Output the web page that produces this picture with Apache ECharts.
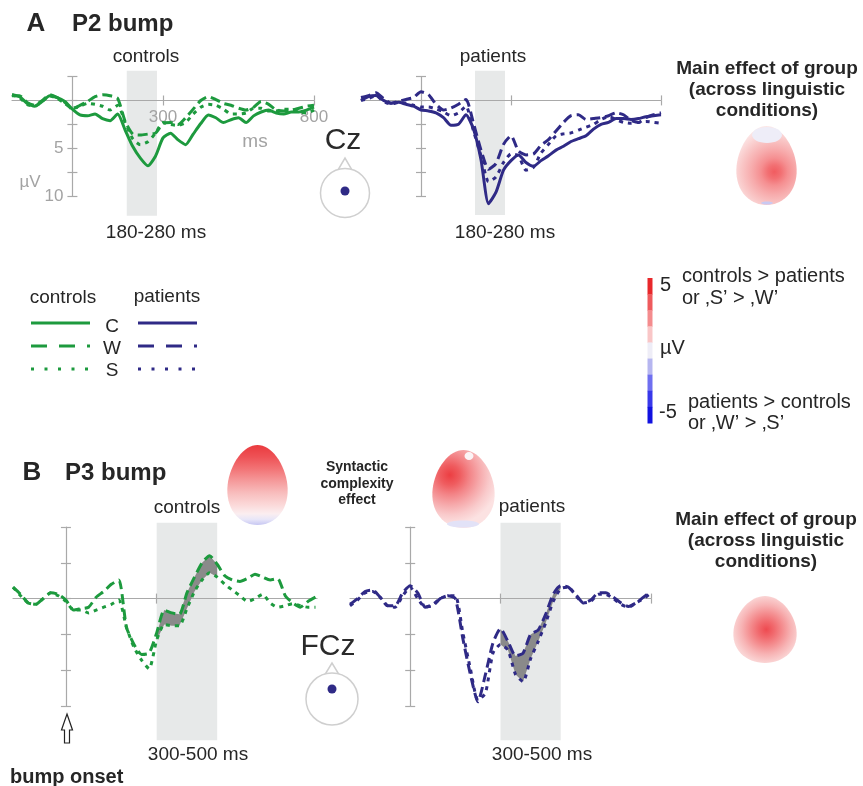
<!DOCTYPE html>
<html>
<head>
<meta charset="utf-8">
<script src="https://cdn.jsdelivr.net/npm/echarts@6/dist/echarts.min.js"></script>
<style>
  html, body { margin: 0; padding: 0; background: #fff; }
  #chart { width: 863px; height: 786px; }
</style>
</head>
<body>
<div id="chart"></div>
<script>
// ---- time bases (ms) ----
const msA = [-200,-175,-150,-125,-100,-75,-50,-25,0,25,50,75,100,125,150,175,200,225,250,275,300,325,350,375,400,425,450,475,500,525,550,575,600,625,650,675,700,725,750,775,800];
const msB = [-175,-150,-125,-100,-75,-50,-25,0,25,50,75,100,125,150,175,200,225,250,275,300,325,350,375,400,425,450,475,500,525,550,575,600,625,650,675,700,725,750,775,800,825];

// ---- P2 bump at Cz (µV), conditions C / W / S ----
const p2ControlsC = [-0.6,-0.4,0.3,0.6,0.1,-0.5,-0.3,0.1,0.9,1.5,1.6,1.4,1.9,2.1,1.4,3.1,4.8,6.0,6.8,5.8,3.9,3.4,4.1,4.6,3.5,2.4,1.5,1.8,2.3,2.0,1.8,2.3,1.6,1.2,1.0,1.3,1.4,1.2,1.2,1.0,0.7];
const p2ControlsW = [-0.5,-0.5,0.2,0.5,0.0,-0.6,-0.3,0.2,0.9,0.5,0.1,-0.4,-0.6,-0.5,-0.2,2.2,3.5,3.6,3.5,3.4,2.4,2.3,2.5,1.8,0.9,0.0,-0.4,-0.1,0.3,0.5,0.8,1.0,0.7,0.1,0.4,1.0,1.1,1.0,0.8,0.6,0.5];
const p2ControlsS = [-0.6,-0.3,0.4,0.6,0.1,-0.5,-0.2,0.3,0.8,0.6,0.3,0.4,0.6,1.0,0.5,2.3,4.0,4.6,4.3,3.4,2.3,2.5,2.6,2.3,1.4,0.7,0.4,0.5,0.9,1.4,1.4,1.3,0.8,0.8,1.1,1.1,0.9,0.9,1.2,1.3,1.0];
const p2PatientsC = [0.0,-0.4,-0.5,0.0,0.3,0.2,0.4,0.6,1.0,1.1,1.3,1.8,2.6,2.5,1.5,3.0,6.2,10.8,9.6,7.3,6.3,5.7,6.5,6.9,6.3,5.8,5.2,4.8,4.3,4.0,3.7,3.0,2.5,2.3,1.9,1.9,2.0,1.9,1.7,1.6,1.5];
const p2PatientsW = [-0.3,-0.5,-0.8,-0.2,0.3,0.1,-0.1,-0.3,-0.9,-0.6,0.4,1.0,0.8,0.4,-0.1,2.4,5.2,7.2,6.6,4.6,3.7,5.3,5.7,5.6,4.7,4.1,3.2,2.3,1.6,1.5,2.0,1.9,1.8,1.6,1.3,1.5,2.1,2.3,1.8,1.5,1.3];
const p2PatientsS = [0.0,-0.2,-0.5,0.1,0.4,0.2,0.3,0.5,0.7,0.7,0.9,1.2,1.6,1.3,0.6,3.2,5.8,8.5,8.0,6.5,5.6,5.8,7.3,7.0,5.5,4.6,3.7,3.5,3.4,3.1,2.8,2.5,2.0,1.7,2.0,2.3,2.4,2.3,2.2,2.3,2.4];

// ---- P3 bump at FCz (µV), conditions W / S ----
const p3ControlsW = [-0.8,-0.3,0.3,0.4,0.0,-0.4,-0.3,0.1,0.8,0.7,0.6,-0.1,-0.5,-1.0,-1.3,2.0,3.2,3.9,3.8,2.4,0.8,1.0,1.1,-0.4,-1.5,-2.5,-3.0,-2.4,-1.6,-1.3,-1.2,-1.4,-1.7,-1.5,-1.3,-1.4,-0.2,0.3,0.6,0.2,-0.1];
const p3ControlsS = [-0.8,-0.2,0.3,0.4,0.0,-0.4,-0.2,0.2,0.8,0.8,1.0,0.8,0.6,0.4,0.1,2.0,3.4,4.3,4.9,2.9,1.8,1.9,1.9,0.7,-0.5,-1.3,-1.8,-1.5,-1.0,-0.6,-0.2,0.2,0.0,-0.3,0.3,0.6,0.5,0.35,0.5,0.6,0.6];
const p3PatientsW = [0.4,0.0,-0.5,-0.6,-0.1,0.5,0.5,-0.4,-0.9,-0.4,0.6,0.5,0.0,-0.2,0.0,2.8,5.3,7.2,5.3,3.1,2.1,3.0,4.0,3.8,2.5,2.2,1.1,-0.3,-0.9,-0.8,-0.3,0.3,0.1,-0.4,-0.4,-0.1,0.3,0.55,0.3,-0.1,-0.5];
const p3PatientsS = [0.5,0.1,-0.4,-0.5,-0.1,0.5,0.6,-0.2,-0.8,0.0,0.6,0.4,0.0,-0.2,-0.2,2.4,4.9,7.1,6.6,3.8,3.2,3.6,5.3,5.8,4.2,3.0,1.7,0.2,-0.7,-0.8,-0.2,0.3,0.2,-0.3,-0.3,0.0,0.4,0.6,0.3,0.0,-0.4];

// ---- analysis windows (ms) and axis ticks ----
const p2Window = [180, 280];
const p3Window = [300, 500];
const p2TicksX = [300, 800];
const p2LabelsX = [300, 800];
const p2LabelsY = [5, 10];
const p3ControlsTicksX = [300];
const p3PatientsTicksX = [300, 800];

// ---- styling ----
const GREEN = '#1d9a3e';
const NAVY = '#2f2a86';
const AXIS = '#a9a9a9';
const LABEL = '#a3a3a3';
const FONT = '"Liberation Sans", Arial, Helvetica, sans-serif';
const DASH = {C: 'solid', W: [10, 5], S: [4, 5]};

const panels = [
  { grid: {left: 12, top: 76.5, width: 302, height: 120}, x: [-200, 800], y: [-2.5, 10],
    band: [-3.1, 12], ticksX: p2TicksX, labelsX: p2LabelsX, labelsY: p2LabelsY,
    win: p2Window, ms: msA, color: GREEN,
    lines: [['C', p2ControlsC], ['W', p2ControlsW], ['S', p2ControlsS]] },
  { grid: {left: 361, top: 76.5, width: 300, height: 119.5}, x: [-200, 800], y: [-2.5, 10],
    band: [-3.1, 12], ticksX: p2TicksX,
    win: p2Window, ms: msA, color: NAVY,
    lines: [['C', p2PatientsC], ['W', p2PatientsW], ['S', p2PatientsS]] },
  { grid: {left: 13, top: 527, width: 304, height: 179}, x: [-175, 830], y: [-5, 7.5],
    band: [-5.3, 9.9], ticksX: p3ControlsTicksX,
    win: p3Window, ms: msB, color: GREEN,
    lines: [['W', p3ControlsW], ['S', p3ControlsS]], diff: [p3ControlsW, p3ControlsS] },
  { grid: {left: 350, top: 527, width: 301, height: 179}, x: [-200, 800], y: [-5, 7.5],
    band: [-5.3, 9.9], ticksX: p3PatientsTicksX,
    win: p3Window, ms: msA, color: NAVY,
    lines: [['W', p3PatientsW], ['S', p3PatientsS]], diff: [p3PatientsW, p3PatientsS] }
];

const grids = [], xAxes = [], yAxes = [], series = [];

function tickLabel(x, y, text, align) {
  return { type: 'text', x: x, y: y,
    style: { text: text, fill: LABEL, font: '17px ' + FONT,
      align: align, textAlign: align, verticalAlign: 'middle', textVerticalAlign: 'middle' } };
}

panels.forEach((p, i) => {
  grids.push(Object.assign({ outerBoundsMode: 'none', containLabel: false }, p.grid));
  const ls = {color: AXIS, width: 1.2};
  const base = {gridIndex: i, type: 'value', splitLine: {show: false}, axisLabel: {show: false}, z: 1.5};
  // main axes carry the line and the ticks on one side
  xAxes.push(Object.assign({}, base, {
    min: p.x[0], max: p.x[1], position: 'bottom',
    axisLine: {show: true, onZero: true, lineStyle: ls},
    axisTick: {show: true, customValues: p.ticksX, length: 5, lineStyle: ls}
  }));
  // companion axes put the other half of each tick across the line
  xAxes.push(Object.assign({}, base, {
    min: p.x[0], max: p.x[1], position: 'top',
    axisLine: {show: false, onZero: true},
    axisTick: {show: true, customValues: p.ticksX, length: 5, lineStyle: ls}
  }));
  yAxes.push(Object.assign({}, base, {
    min: p.y[0], max: p.y[1], interval: 2.5, inverse: true, position: 'left',
    axisLine: {show: true, onZero: true, lineStyle: ls},
    axisTick: {show: true, length: 5, lineStyle: ls}
  }));
  yAxes.push(Object.assign({}, base, {
    min: p.y[0], max: p.y[1], interval: 2.5, inverse: true, position: 'right',
    axisLine: {show: false, onZero: true},
    axisTick: {show: true, length: 5, lineStyle: ls}
  }));

  const xi = 2 * i, yi = 2 * i;

  // shaded analysis window
  series.push({
    type: 'custom', xAxisIndex: xi, yAxisIndex: yi, z: 1, silent: true, clip: false,
    data: [[p.win[0], p.win[1]]],
    renderItem: (params, api) => {
      const a = api.coord([api.value(0), p.band[0]]);
      const b = api.coord([api.value(1), p.band[1]]);
      return { type: 'rect',
        shape: {x: a[0], y: Math.min(a[1], b[1]), width: b[0] - a[0], height: Math.abs(b[1] - a[1])},
        style: {fill: '#e7e9e9'} };
    }
  });

  // tick labels that sit next to the zero lines
  if (p.labelsX) {
    series.push({
      type: 'custom', xAxisIndex: xi, yAxisIndex: yi, z: 2, silent: true, clip: false,
      data: p.labelsX.map(v => [v, 0]),
      renderItem: (params, api) => {
        const pt = api.coord([api.value(0), api.value(1)]);
        return tickLabel(pt[0], pt[1] + 17, String(api.value(0)), 'center');
      }
    });
  }
  if (p.labelsY) {
    series.push({
      type: 'custom', xAxisIndex: xi, yAxisIndex: yi, z: 2, silent: true, clip: false,
      data: p.labelsY.map(v => [0, v]),
      renderItem: (params, api) => {
        const pt = api.coord([api.value(0), api.value(1)]);
        return tickLabel(pt[0] - 9, pt[1], String(api.value(1)), 'right');
      }
    });
  }

  // difference between W and S inside the window
  if (p.diff) {
    const [w, s] = p.diff;
    series.push({
      type: 'custom', xAxisIndex: xi, yAxisIndex: yi, z: 2, silent: true, clip: false,
      data: [[p.win[0], p.win[1]]],
      renderItem: (params, api) => {
        const lo = api.value(0), hi = api.value(1);
        const top = [], bottom = [];
        p.ms.forEach((t, k) => {
          if (t >= lo && t <= hi) {
            top.push(api.coord([t, w[k]]));
            bottom.unshift(api.coord([t, s[k]]));
          }
        });
        return { type: 'polygon', shape: {points: top.concat(bottom)}, style: {fill: '#8a8a8a'} };
      }
    });
  }

  p.lines.forEach(([cond, vals]) => {
    series.push({
      type: 'line', name: cond, xAxisIndex: xi, yAxisIndex: yi, z: 3, silent: true, clip: false,
      symbol: 'none', smooth: 0.2,
      data: p.ms.map((t, k) => [t, vals[k]]),
      lineStyle: {color: p.color, width: 3, type: DASH[cond], cap: 'butt', join: 'round'}
    });
  });
});

// ---- decoration: text, legend, colour scale, scalp maps ----
function txt(x, y, text, o) {
  o = o || {};
  return { type: 'text', x: x, y: y, silent: true, z: 10,
    style: { text: text, fill: o.color || '#262626',
      font: (o.bold ? 'bold ' : '') + (o.size || 19) + 'px ' + FONT,
      align: o.align || 'center', verticalAlign: 'middle', lineHeight: o.lh } };
}
// egg-shaped scalp outline, a little narrower at the nose end
function eggPoints(cx, top, w, h) {
  const pts = [], n = 64, cy = top + h / 2;
  for (let k = 0; k < n; k++) {
    const th = 2 * Math.PI * k / n;
    pts.push([cx + (w / 2) * Math.sin(th) * (1 - 0.14 * Math.cos(th)) / 1.02, cy - (h / 2) * Math.cos(th)]);
  }
  return pts;
}
function stops(list) { return list.map(([o, c]) => ({offset: o, color: c})); }
function scalp(cx, top, w, h, fill, extras) {
  const els = [{ type: 'polygon', silent: true, z: 5, shape: {points: eggPoints(cx, top, w, h)}, style: {fill: fill} }];
  (extras || []).forEach(e => els.push(Object.assign({silent: true, z: 6}, e)));
  return els;
}
function head(cx, cy, r, noseTop, dotY) {
  return [
    { type: 'polygon', silent: true, z: 5, shape: {points: [[cx - 7, cy - r + 1.5], [cx, noseTop], [cx + 7, cy - r + 1.5]]},
      style: {fill: '#fff', stroke: '#cfcfcf', lineWidth: 1.5} },
    { type: 'circle', silent: true, z: 6, shape: {cx: cx, cy: cy, r: r}, style: {fill: '#fff', stroke: '#cfcfcf', lineWidth: 1.5} },
    { type: 'circle', silent: true, z: 7, shape: {cx: cx, cy: dotY, r: 4.5}, style: {fill: NAVY} }
  ];
}
function legendLine(x1, x2, y, color, dash) {
  return { type: 'line', silent: true, z: 10, shape: {x1: x1, y1: y, x2: x2, y2: y},
    style: {stroke: color, lineWidth: 3, lineDash: dash, lineCap: 'butt'} };
}

const scaleColors = ['#e8282b', '#ee5a5d', '#f48c8e', '#f9c6c7', '#eeedf7', '#b6b6f0', '#6f6ff0', '#3838ea', '#1111e0'];
const scaleEls = scaleColors.map((c, k) => ({
  type: 'rect', silent: true, z: 5,
  shape: {x: 647.5, y: 278 + k * 145 / scaleColors.length, width: 5, height: 145 / scaleColors.length + 0.5},
  style: {fill: c}
}));

const graphics = [].concat(
  // panel A
  [ txt(36, 24, 'A', {bold: true, size: 26}),
    txt(72, 24, 'P2 bump', {bold: true, size: 24, align: 'left'}),
    txt(146, 57, 'controls'),
    txt(493, 57, 'patients'),
    txt(156, 233, '180-280 ms'),
    txt(505, 233, '180-280 ms'),
    txt(255, 142, 'ms', {color: LABEL}),
    txt(30, 182, 'µV', {color: LABEL, size: 17}),
    txt(343, 141, 'Cz', {size: 30, color: '#2a2a2a'}),
    txt(767, 89.5, 'Main effect of group\n(across linguistic\nconditions)', {bold: true, size: 19, lh: 21}) ],
  head(345, 193, 24.5, 158, 191),
  scalp(766.5, 126, 61, 79,
    {type: 'radial', x: 0.63, y: 0.58, r: 0.75, colorStops: stops([[0, '#f15c60'], [0.15, '#f27073'], [0.3, '#f58f91'], [0.5, '#f7abac'], [0.72, '#f9c6c6'], [0.88, '#fbdada'], [1, '#fce6e6']])},
    [ {type: 'ellipse', shape: {cx: 767, cy: 135, rx: 15, ry: 8}, style: {fill: '#eeedf8'}},
      {type: 'ellipse', shape: {cx: 767, cy: 203, rx: 6, ry: 1.5}, style: {fill: '#c9c9f2'}} ]),
  // legend
  [ txt(63, 298, 'controls'),
    txt(167, 297, 'patients'),
    txt(112, 327, 'C'),
    txt(112, 349, 'W'),
    txt(112, 371, 'S'),
    legendLine(31, 90, 323, GREEN, null),
    legendLine(138, 197, 323, NAVY, null),
    legendLine(31, 90, 346, GREEN, [16, 12]),
    legendLine(138, 197, 346, NAVY, [16, 12]),
    legendLine(31, 90, 369, GREEN, [3, 10.5]),
    legendLine(138, 197, 369, NAVY, [3, 10.5]) ],
  // colour scale
  scaleEls,
  [ txt(660, 285, '5', {align: 'left', size: 20}),
    txt(682, 276, 'controls > patients', {align: 'left', size: 20}),
    txt(682, 298, 'or ‚S’ > ‚W’', {align: 'left', size: 20}),
    txt(660, 348, 'µV', {align: 'left', size: 20}),
    txt(659, 412, '-5', {align: 'left', size: 20}),
    txt(688, 402, 'patients > controls', {align: 'left', size: 20}),
    txt(688, 423, 'or ‚W’ > ‚S’', {align: 'left', size: 20}) ],
  // panel B
  [ txt(32, 473, 'B', {bold: true, size: 26}),
    txt(65, 473, 'P3 bump', {bold: true, size: 24, align: 'left'}),
    txt(187, 508, 'controls'),
    txt(532, 507, 'patients'),
    txt(357, 484, 'Syntactic\ncomplexity\neffect', {bold: true, size: 14, lh: 16.5}),
    txt(328, 647, 'FCz', {size: 30, color: '#2a2a2a'}),
    txt(198, 755, '300-500 ms'),
    txt(542, 755, '300-500 ms'),
    txt(10, 777, 'bump onset', {bold: true, size: 20, align: 'left'}),
    txt(766, 540.5, 'Main effect of group\n(across linguistic\nconditions)', {bold: true, size: 19, lh: 21}),
    { type: 'polygon', silent: true, z: 10,
      shape: {points: [[67, 714], [72.5, 730], [69.5, 730], [69.5, 743], [64.5, 743], [64.5, 730], [61.5, 730]]},
      style: {fill: '#fff', stroke: '#222', lineWidth: 1.2} } ],
  head(332, 699, 26, 663, 689),
  scalp(257.5, 445, 61, 80,
    {type: 'linear', x: 0, y: 0, x2: 0, y2: 1, colorStops: stops([[0, '#ea3a3e'], [0.15, '#ee5256'], [0.3, '#f27476'], [0.45, '#f59a9b'], [0.6, '#f8bdbd'], [0.75, '#fbd9d9'], [0.86, '#fbeef0'], [0.93, '#e8e6f8'], [1, '#c6c6f2']])}),
  scalp(463.5, 450, 63, 78,
    {type: 'radial', x: 0.28, y: 0.32, r: 0.8, colorStops: stops([[0, '#ec3e42'], [0.2, '#ef5c5f'], [0.4, '#f38588'], [0.6, '#f6a9ab'], [0.8, '#f9cacb'], [1, '#fce2e2']])},
    [ {type: 'ellipse', shape: {cx: 469, cy: 456, rx: 4.5, ry: 4}, style: {fill: '#fbf4f6'}},
      {type: 'ellipse', shape: {cx: 463, cy: 524, rx: 16, ry: 3.5}, style: {fill: '#e2e2f7'}} ]),
  scalp(765, 596, 64, 67,
    {type: 'radial', x: 0.52, y: 0.5, r: 0.65, colorStops: stops([[0, '#ee4a50'], [0.2, '#f16a6e'], [0.4, '#f48e90'], [0.6, '#f7b3b4'], [0.8, '#fad2d2'], [1, '#fce6e6']])})
);

const chart = echarts.init(document.getElementById('chart'), null, {renderer: 'canvas'});
chart.setOption({
  backgroundColor: '#ffffff',
  animation: false,
  grid: grids,
  xAxis: xAxes,
  yAxis: yAxes,
  series: series,
  graphic: graphics
});
</script>
</body>
</html>
